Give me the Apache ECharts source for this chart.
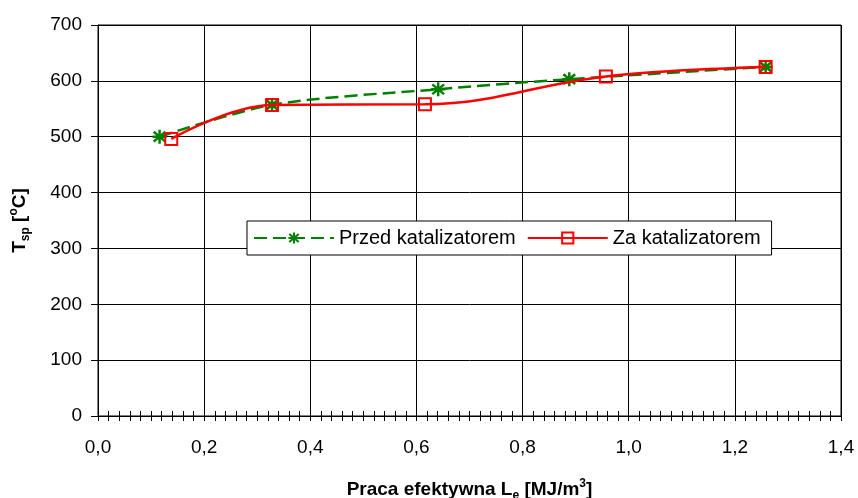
<!DOCTYPE html>
<html>
<head>
<meta charset="utf-8">
<script src="https://cdn.jsdelivr.net/npm/echarts@6/dist/echarts.min.js"></script>
<style>html,body{margin:0;padding:0;background:#fff;}#c{width:858px;height:498px;}</style>
</head>
<body>
<div id="c"></div>
<script>
var xPrzed = [0.116, 0.328, 0.641, 0.888, 1.258];
var yPrzed = [500, 557, 585, 603, 625];
var xZa = [0.138, 0.328, 0.616, 0.957, 1.258];
var yZa = [496, 557, 558, 608, 625];
var seriesNames = ['Przed katalizatorem', 'Za katalizatorem'];

function pairs(xs, ys) { return xs.map(function (x, i) { return [x, ys[i]]; }); }

var starPath = 'path://M5,0 L5,10 M0.8,1.5 L9.2,8.5 M0.8,8.5 L9.2,1.5 M0,5 L10,5';
var FONT = 'Arial, "Liberation Sans", sans-serif';

var titleRich = {
  a: {fontFamily: FONT, fontSize: 19, fontWeight: 'bold', color: '#000', lineHeight: 24, verticalAlign: 'middle'},
  b: {fontFamily: FONT, fontSize: 12, fontWeight: 'bold', color: '#000', verticalAlign: 'bottom', lineHeight: 14},
  c: {fontFamily: FONT, fontSize: 12, fontWeight: 'bold', color: '#000', verticalAlign: 'top', lineHeight: 14}
};

var chart = echarts.init(document.getElementById('c'), null, {renderer: 'canvas'});
chart.setOption({
  animation: false,
  backgroundColor: '#fff',
  grid: {left: 98, right: 17, top: 25, bottom: 82, show: true, borderColor: '#000', borderWidth: 1,
         containLabel: false, outerBoundsMode: 'none'},
  legend: {
    left: 247, top: 221, padding: [7, 11, 7, 6],
    backgroundColor: '#fff', borderColor: '#000', borderWidth: 1,
    itemWidth: 80, itemHeight: 14, itemGap: 11,
    textStyle: {fontFamily: FONT, fontSize: 20, color: '#000'},
    data: seriesNames
  },
  xAxis: [{
    type: 'value', min: 0, max: 1.4, interval: 0.2,
    name: '{a|Praca efektywna L}{b|e}{a| [MJ/m}{c|3}{a|]}',
    nameLocation: 'middle', nameGap: 62,
    nameTextStyle: {rich: titleRich},
    axisLine: {show: true, onZero: false, lineStyle: {color: '#000', width: 1}},
    axisTick: {show: true, length: 5, inside: false, lineStyle: {color: '#000'}},
    minorTick: {show: true, splitNumber: 10, length: 5, lineStyle: {color: '#000'}},
    axisLabel: {fontFamily: FONT, fontSize: 19, color: '#000', margin: 22,
      formatter: function (v) { return v.toFixed(1).replace('.', ','); }},
    splitLine: {show: true, lineStyle: {color: '#000', width: 1}}
  }, {
    type: 'value', min: 0, max: 1.4, interval: 0.2, position: 'bottom',
    axisLine: {show: false},
    axisTick: {show: true, length: 5, inside: true, lineStyle: {color: '#000'}},
    minorTick: {show: true, splitNumber: 10, length: 5, lineStyle: {color: '#000'}},
    axisLabel: {show: false},
    splitLine: {show: false}
  }],
  yAxis: {
    type: 'value', min: 0, max: 700, interval: 100,
    name: '{a|T}{b|sp}{a| [}{c|o}{a|C]}',
    nameLocation: 'middle', nameGap: 66, nameRotate: 90,
    nameTextStyle: {rich: titleRich},
    axisLine: {show: true, lineStyle: {color: '#000', width: 1}},
    axisTick: {show: true, length: 7, lineStyle: {color: '#000'}},
    axisLabel: {fontFamily: FONT, fontSize: 19, color: '#000', margin: 16},
    splitLine: {show: true, lineStyle: {color: '#000', width: 1}}
  },
  series: [{
    name: seriesNames[0], type: 'line', xAxisIndex: 0,
    data: pairs(xPrzed, yPrzed),
    smooth: 0.3,
    symbol: starPath, symbolSize: 14,
    lineStyle: {color: '#008000', width: 2.5, type: [13, 6]},
    itemStyle: {color: 'none', borderColor: '#008000', borderWidth: 2.5},
    z: 3
  }, {
    name: seriesNames[1], type: 'line', xAxisIndex: 0,
    data: pairs(xZa, yZa),
    smooth: 0.4,
    symbol: 'rect', symbolSize: 12,
    lineStyle: {color: '#ff0000', width: 2.5},
    itemStyle: {color: 'rgba(255,255,255,0)', borderColor: '#ff0000', borderWidth: 2},
    z: 4
  }]
});
</script>
</body>
</html>
